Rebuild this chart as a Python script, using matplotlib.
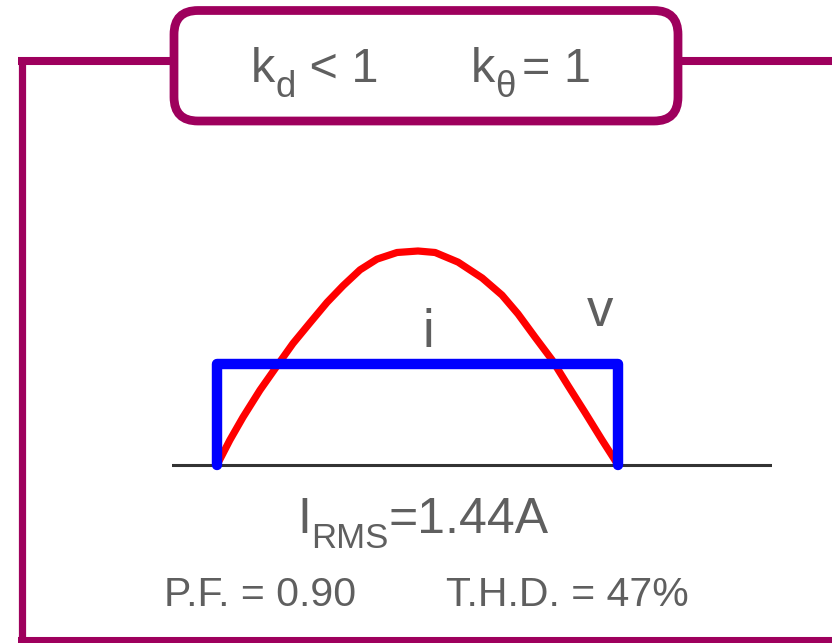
import matplotlib
matplotlib.use('Agg')
import matplotlib.pyplot as plt
from matplotlib.patches import FancyBboxPatch

plt.rcParams['font.family'] = ['Liberation Sans', 'DejaVu Sans']

# supply voltage, half cycle (phase in degrees, normalised amplitude)
v_phase = [0, 5.8, 11.7, 19.3, 27.4, 34.1, 41.7, 49.4, 56.6, 64.2, 71.8,
           80.8, 90.2, 97.9, 108.2, 119.0, 127.9, 135.1, 142.7, 150.4,
           157.6, 165.2, 172.8, 180]
v_level = [0, 0.117, 0.224, 0.350, 0.470, 0.568, 0.664, 0.760, 0.838, 0.912,
           0.962, 0.993, 1.0, 0.993, 0.948, 0.874, 0.794, 0.706, 0.598, 0.491,
           0.370, 0.245, 0.117, 0]

# current, square block
i_phase = [0, 0, 180, 180]
i_level = [0, 0.474, 0.474, 0]

PURPLE = '#9E005D'
GREY = '#5f5f5f'

W, H = 832, 643
fig = plt.figure(figsize=(W / 100, H / 100), dpi=100)
renderer = fig.canvas.get_renderer()


def draw_runs(ax, x, y, runs):
    # runs: (text, fontsize, baseline shift in px, extra gap before)
    for txt, size, dy, gap in runs:
        x += gap
        t = ax.text(x, y + dy, txt, fontsize=size, color=GREY,
                    va='baseline', zorder=4)
        x += t.get_window_extent(renderer=renderer).width


# background layer in pixel coordinates
bg = fig.add_axes([0, 0, 1, 1])
bg.set_xlim(0, W)
bg.set_ylim(H, 0)
bg.axis('off')

# outer frame, open on the right
bg.plot([18, 174], [61, 61], color=PURPLE, lw=5.8, solid_capstyle='butt')
bg.plot([678, W], [61, 61], color=PURPLE, lw=5.8, solid_capstyle='butt')
bg.plot([21.5, 21.5], [58, 643], color=PURPLE, lw=5.2, solid_capstyle='butt')
bg.plot([18, W], [640.5, 640.5], color=PURPLE, lw=5.8, solid_capstyle='butt')

box = FancyBboxPatch((174, 10.5), 504, 110.5,
                     boxstyle='round,pad=0,rounding_size=24',
                     facecolor='white', edgecolor=PURPLE, lw=6.3, zorder=3)
bg.add_patch(box)

draw_runs(bg, 251, 82, [('k', 35, 0, 0), ('d', 26.5, 15, 0), (' < 1', 35, 0, 0)])
draw_runs(bg, 471, 82, [('k', 35, 0, 0), ('\u03b8', 26.5, 15, 0), ('= 1', 35, 0, 6)])

bg.text(422, 347, 'i', fontsize=38, color=GREY, va='baseline')
bg.text(587, 326, 'v', fontsize=38, color=GREY, va='baseline')

draw_runs(bg, 297, 533, [('I', 36, 0, 0), ('RMS', 25, 15, 0), ('=1.44A', 36, 0, 0)])
bg.text(164, 606, 'P.F. = 0.90', fontsize=29.5, color=GREY, va='baseline')
bg.text(446, 606, 'T.H.D. = 47%', fontsize=29.5, color=GREY, va='baseline')

# waveform axes
ax = fig.add_axes([172 / W, 1 - 507.8 / H, 600 / W, (507.8 - 229.6) / H])
ax.set_xlim(-20.2, 249.1)
ax.set_ylim(-0.2, 1.1)
ax.axis('off')
ax.patch.set_alpha(0)

ax.axhline(0, color='#333333', lw=2.2, zorder=1)
ax.plot(v_phase, v_level, color='#ff0000', lw=5.2, zorder=2,
        solid_capstyle='round', solid_joinstyle='round')
ax.plot(i_phase, i_level, color='#0000ff', lw=7.5, zorder=3,
        solid_capstyle='round', solid_joinstyle='round')

fig.savefig('out.png', dpi=100)
